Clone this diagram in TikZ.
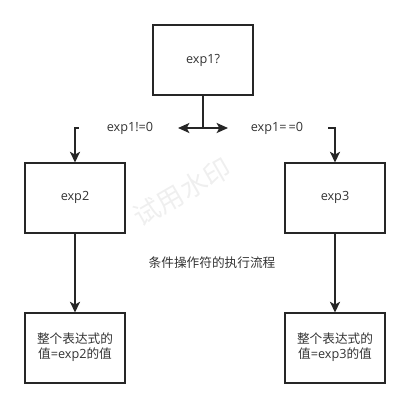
\documentclass[tikz,border=0pt]{standalone}
\usepackage{fontspec}
\setmainfont{Noto Sans CJK SC}
\newfontfamily\lat{Open Sans}
\usetikzlibrary{arrows.meta}
\definecolor{ln}{HTML}{262626}
\definecolor{tx}{HTML}{333333}
\definecolor{wm}{HTML}{EFEFEF}
\tikzset{
  box/.style={draw=ln, line width=1.5pt, minimum width=75pt, minimum height=52.5pt, inner sep=0pt, outer sep=0pt, text=tx, font=\fontsize{9.5}{11.25}\selectfont, align=center},
  lbl/.style={text=tx, font=\fontsize{9.5}{11.25}\selectfont, inner sep=0pt},
  conn/.style={draw=ln, line width=1.5pt},
  arr/.style={conn, -{Stealth[length=8pt,width=7.5pt,inset=2pt]}},
  darr/.style={conn, {Stealth[length=8.5pt,width=7.5pt,inset=2pt]}-{Stealth[length=8.5pt,width=7.5pt,inset=2pt]}}
}
\begin{document}
\begin{tikzpicture}[x=0.75pt,y=-0.75pt]
\useasboundingbox (0,0) rectangle (410,408);
\node[rotate=30, text=wm, font=\fontsize{20}{20}\selectfont, inner sep=0pt] (wmk) at (182,192) {试用水印};
\node[box] (t) at (203,60) {\lat exp1?};
\node[box] (l) at (75,197.5) {\lat exp2};
\node[box] (r) at (335,197.5) {\lat exp3};
\node[box] (lb) at (75,347.5) {整个表达式的\\值{\lat=exp2}的值};
\node[box] (rb) at (335,347.5) {整个表达式的\\值{\lat=exp3}的值};
\node[lbl] (ln) at (130,128) {\lat exp1!=0};
\node[lbl] (le) at (277,128) {\lat exp1=\,=0};
\node[lbl] (cap) at (212,263) {条件操作符的执行流程};
\coordinate (mid) at (203,128);
\coordinate (da1) at (178,128);
\coordinate (da2) at (228,128);
\coordinate (lt) at (78.5,128);
\coordinate (rt) at (328,128);
\draw[conn] (t.south) -- (mid);
\draw[darr] (da1) -- (da2);
\draw[arr] (lt) -| (l.north);
\draw[arr] (rt) -| (r.north);
\draw[arr] (l.south) -- (lb.north);
\draw[arr] (r.south) -- (rb.north);
\end{tikzpicture}
\end{document}
